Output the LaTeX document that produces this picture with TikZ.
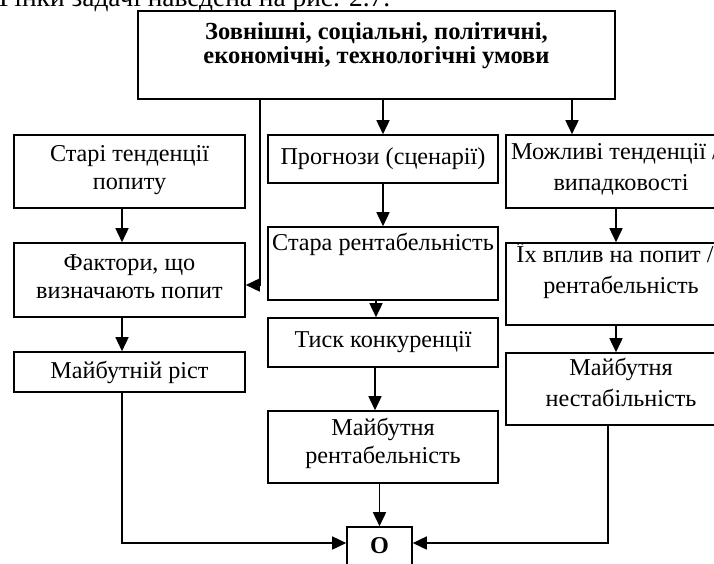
\documentclass[tikz,border=0pt]{standalone}
\usepackage{fontspec}
\setmainfont{Liberation Serif}
\usetikzlibrary{arrows.meta}

\tikzset{
  blk/.style={draw, line width=1.6pt, inner sep=0pt, align=center,
    font=\fontsize{24.2}{28.5}\selectfont},
  blkr/.style={blk, font=\fontsize{24.2}{31}\selectfont},
  arr/.style={line width=1.6pt, -{Triangle[length=14pt,width=13pt]}},
}

\begin{document}
\begin{tikzpicture}[x=1pt, y=-1pt]
\useasboundingbox (0,0) rectangle (714,563);
\clip (0,0) rectangle (714,563);

% line of running text above the scheme
\node[anchor=base west, inner sep=0pt, font=\fontsize{27.4}{32}\selectfont]
  (intro) at (-1,6.5) {Рінки задачі наведена на рис. 2.7.};

% external conditions
\node[blk, minimum width=477pt, minimum height=88pt,
      font=\fontsize{24.5}{24}\selectfont\bfseries] (top) at (376.5,55)
  {Зовнішні, соціальні, політичні,\\ економічні, технологічні умови\\ \mbox{}};

% left column: demand
\node[blk, minimum width=231pt, minimum height=73pt] (st) at (129.5,171.5)
  {Старі тенденції\\ попиту\\[-20.5pt]\mbox{}};
\node[blk, minimum width=231pt, minimum height=74pt] (fa) at (129.5,280)
  {Фактори, що\\ визначають попит\\[-21.5pt]\mbox{}};
\node[blk, minimum width=231pt, minimum height=40pt] (mr) at (129.5,372)
  {Майбутній ріст};

% middle column: profitability
\node[blk, minimum width=230pt, minimum height=48pt] (pr) at (383,159)
  {Прогнози (сценарії)};
\node[blk, minimum width=230pt, minimum height=73pt] (sr) at (383,263.5)
  {Стара рентабельність\\[14pt] \mbox{}};
\node[blk, minimum width=230pt, minimum height=49pt] (tk) at (383,342.5)
  {Тиск конкуренції};
\node[blk, minimum width=230pt, minimum height=72pt] (mre) at (383,447)
  {Майбутня\\ рентабельність\\[-16.5pt]\mbox{}};

% right column: instability
\node[blkr, minimum width=230pt, minimum height=73pt] (mt) at (621,171.5)
  {Можливі тенденції /\rule{12pt}{0pt}\\ випадковості\\[-21pt]\mbox{}};
\node[blkr, minimum width=230pt, minimum height=82pt] (iv) at (621,284)
  {Їх вплив на попит /\rule{12pt}{0pt}\\ рентабельність\\ \mbox{}};
\node[blkr, minimum width=230pt, minimum height=72pt] (mn) at (621,389)
  {Майбутня\\ нестабільність\\[-17pt]\mbox{}};

% result
\node[blk, minimum width=65pt, minimum height=38pt,
      font=\fontsize{24.2}{29}\selectfont\bfseries] (res) at (379.5,546) {О};

% connectors from the top block
\draw[arr] (top.south -| pr.north) -- (pr.north);
\draw[arr] ([xshift=-49pt]top.south -| mt.north) -- ([xshift=-49pt]mt.north);
\draw[arr] ([xshift=-116.5pt]top.south) |- ([yshift=-5pt]fa.east);

% left column
\draw[arr] ([xshift=-7.5pt]st.south) -- ([xshift=-7.5pt]fa.north);
\draw[arr] ([xshift=-7.5pt]fa.south) -- ([xshift=-7.5pt]mr.north);
\draw[arr] ([xshift=-7.5pt]mr.south) |- ([yshift=3pt]res.west);

% middle column
\draw[arr] (pr.south) -- (sr.north);
\draw[arr] ([xshift=-7pt]sr.south) -- ([xshift=-7pt]tk.north);
\draw[arr] ([xshift=-8pt]tk.south) -- ([xshift=-8pt]mre.north);
\draw[arr] (mre.south -| res.north) -- (res.north);

% right column
\draw[arr] ([xshift=-5pt]mt.south) -- ([xshift=-5pt]iv.north);
\draw[arr] ([xshift=-5pt]iv.south) -- ([xshift=-5pt]mn.north);
\draw[arr] ([xshift=-13pt]mn.south) |- ([yshift=3pt]res.east);
\end{tikzpicture}
\end{document}
